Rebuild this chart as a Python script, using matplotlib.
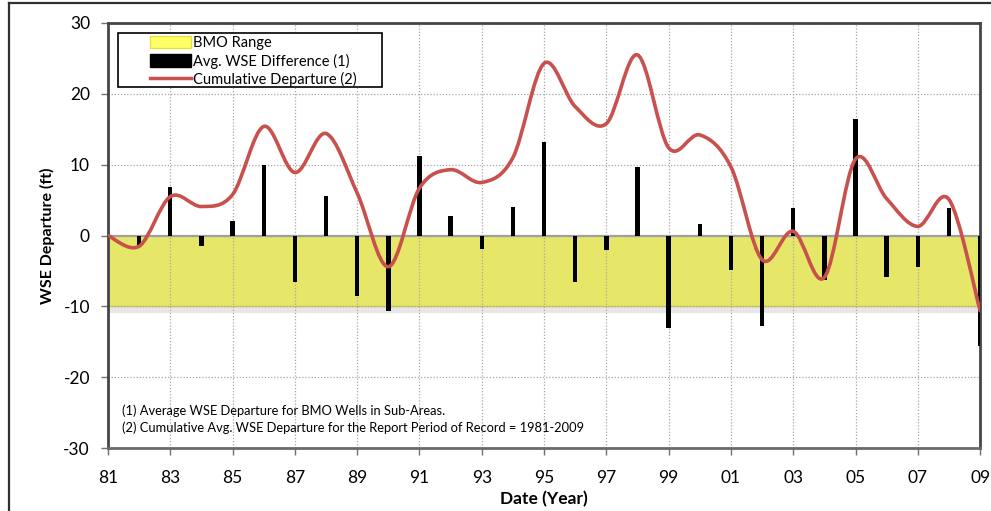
import numpy as np
import matplotlib
matplotlib.use('Agg')
import matplotlib.pyplot as plt
from matplotlib.path import Path
from matplotlib.patches import PathPatch, Patch, Rectangle
from matplotlib.lines import Line2D

plt.rcParams['font.family'] = ['Lato', 'DejaVu Sans']
plt.rcParams['axes.unicode_minus'] = False

# yearly average WSE difference (bars), 1982-2009
bar_years = list(range(1982, 2010))
avg_diff = [-1.3, 6.9, -1.5, 2.0, 9.9, -6.6, 5.6, -8.5, -10.7, 11.3,
            2.7, -1.9, 4.1, 13.2, -6.5, -2.0, 9.7, -13.0, 1.6, -4.9,
            -12.8, 3.9, -6.2, 16.5, -5.8, -4.4, 3.9, -15.6]

# cumulative departure (red smoothed line), 1981-2009
line_years = list(range(1981, 2010))
cum_dep = [0.0, -1.5, 5.5, 4.1, 5.8, 15.4, 8.9, 14.4, 6.0, -4.4,
           6.7, 9.3, 7.5, 11.0, 24.3, 18.2, 15.8, 25.5, 12.4, 14.2,
           9.7, -3.4, 0.6, -5.9, 10.8, 5.2, 1.3, 5.1, -10.6]

bmo_low, bmo_high = -10, 0

x_ticks = list(range(1981, 2010, 2))
x_labels = ['%02d' % (y % 100) for y in x_ticks]
y_ticks = [-30, -20, -10, 0, 10, 20, 30]

fig = plt.figure(figsize=(9.91, 5.11), dpi=100)
ax = fig.add_axes([0.109, 0.123, 0.880, 0.832])

# BMO range band with a little shadow under it
ax.axhspan(bmo_low, bmo_high, color='#E6E668', zorder=1)
ax.axhspan(bmo_low - 0.9, bmo_low, color='#D8D8D8', alpha=0.6, lw=0, zorder=1)
ax.axhline(bmo_low, color='#D4CF4A', lw=1, zorder=1.2)
ax.axhline(0, color='#A0A0A0', lw=1.6, zorder=2)

# bars
ax.bar(bar_years, avg_diff, width=0.14, color='black', zorder=3)

# Excel-style smoothed line, cubic bezier through the yearly points
pts = np.column_stack([line_years, cum_dep])
verts = [pts[0]]
codes = [Path.MOVETO]
n = len(pts)
for i in range(n - 1):
    p0 = pts[max(i - 1, 0)]
    p1 = pts[i]
    p2 = pts[i + 1]
    p3 = pts[min(i + 2, n - 1)]
    c1 = p1 + (p2 - p0) / 6.0
    c2 = p2 - (p3 - p1) / 6.0
    verts += [c1, c2, p2]
    codes += [Path.CURVE4] * 3
ax.add_patch(PathPatch(Path(verts, codes), fill=False, edgecolor='#C8504D',
                       lw=2.6, zorder=4, capstyle='round'))

ax.set_xlim(1981, 2009)
ax.set_ylim(-30, 30)
ax.set_xticks(x_ticks)
ax.set_xticklabels(x_labels)
ax.set_yticks(y_ticks)
ax.tick_params(axis='both', labelsize=12.5, length=5, width=1, color='#707070',
               direction='out')
ax.tick_params(axis='x', pad=11)
ax.tick_params(axis='y', pad=8)
ax.grid(True, color='#A8A8A8', ls=(0, (1, 1.5)), lw=0.9)
ax.set_axisbelow('line')

for s in ax.spines.values():
    s.set_color('#454545')
    s.set_linewidth(2)
ax.spines['bottom'].set_color('#6A6A6A')

ax.set_ylabel('WSE Departure (ft)', fontsize=11.5, fontweight='bold', labelpad=6)
ax.set_xlabel('Date (Year)', fontsize=12.5, fontweight='bold', labelpad=3)

# legend: frameless, with its own box so the handles sit inset like the original
ax.add_patch(Rectangle((0.0114, 0.849), 0.303, 0.127, transform=ax.transAxes,
                       facecolor='white', edgecolor='black', lw=1.2, zorder=5))
handles = [Patch(facecolor='#FFFF66', edgecolor='#E6E040'),
           Patch(facecolor='black', edgecolor='black'),
           Line2D([], [], color='#C8504D', lw=2.5)]
labels = ['BMO Range', 'Avg. WSE Difference (1)', 'Cumulative Departure (2)']
leg = ax.legend(handles, labels, loc='upper left', bbox_to_anchor=(0.048, 0.969),
                fontsize=10.5, frameon=False, borderpad=0, labelspacing=0.22,
                handlelength=2.8, handleheight=0.9, handletextpad=0.15,
                borderaxespad=0)
leg.set_zorder(6)

ax.text(0.016, 0.089, '(1) Average WSE Departure for BMO Wells in Sub-Areas.',
        transform=ax.transAxes, fontsize=9.3, va='center')
ax.text(0.016, 0.047, '(2) Cumulative Avg. WSE Departure for the Report Period of Record = 1981-2009',
        transform=ax.transAxes, fontsize=9.3, va='center')

# outer frame (left and top edges visible)
fig.add_artist(Line2D([0.009, 1.0], [0.994, 0.994], color='#303030', lw=1.6,
                      transform=fig.transFigure))
fig.add_artist(Line2D([0.009, 0.009], [0.0, 0.994], color='#303030', lw=1.6,
                      transform=fig.transFigure))

fig.savefig('out.png', dpi=100)
